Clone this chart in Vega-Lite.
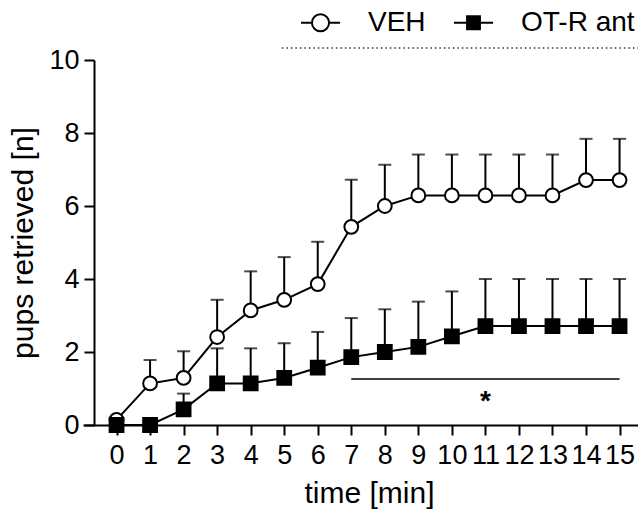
{
  "$schema": "https://vega.github.io/schema/vega-lite/v6.json",
  "width": 555,
  "height": 365,
  "autosize": {"type": "none"},
  "padding": {"left": 83, "top": 60, "right": 0, "bottom": 84},
  "background": "white",
  "config": {
    "view": {"stroke": null},
    "font": "Liberation Sans",
    "axis": {
      "domainColor": "black", "domainWidth": 2,
      "tickColor": "black", "tickWidth": 2, "tickSize": 10,
      "labelFont": "Liberation Sans", "labelFontSize": 27, "labelColor": "black",
      "titleFont": "Liberation Sans", "titleFontSize": 30, "titleFontWeight": "normal", "titleColor": "black",
      "grid": false
    }
  },
  "datasets": {
    "d": [
      {"t": 0, "group": "VEH", "mean": 0.14, "upper": null},
      {"t": 1, "group": "VEH", "mean": 1.14, "upper": 1.78},
      {"t": 2, "group": "VEH", "mean": 1.29, "upper": 2.02},
      {"t": 3, "group": "VEH", "mean": 2.41, "upper": 3.43},
      {"t": 4, "group": "VEH", "mean": 3.14, "upper": 4.21},
      {"t": 5, "group": "VEH", "mean": 3.43, "upper": 4.6},
      {"t": 6, "group": "VEH", "mean": 3.86, "upper": 5.02},
      {"t": 7, "group": "VEH", "mean": 5.43, "upper": 6.72},
      {"t": 8, "group": "VEH", "mean": 6.0, "upper": 7.13},
      {"t": 9, "group": "VEH", "mean": 6.29, "upper": 7.41},
      {"t": 10, "group": "VEH", "mean": 6.29, "upper": 7.41},
      {"t": 11, "group": "VEH", "mean": 6.29, "upper": 7.41},
      {"t": 12, "group": "VEH", "mean": 6.29, "upper": 7.41},
      {"t": 13, "group": "VEH", "mean": 6.29, "upper": 7.41},
      {"t": 14, "group": "VEH", "mean": 6.71, "upper": 7.84},
      {"t": 15, "group": "VEH", "mean": 6.71, "upper": 7.84},
      {"t": 0, "group": "OT-R ant", "mean": 0, "upper": null},
      {"t": 1, "group": "OT-R ant", "mean": 0, "upper": null},
      {"t": 2, "group": "OT-R ant", "mean": 0.43, "upper": 0.86},
      {"t": 3, "group": "OT-R ant", "mean": 1.14, "upper": 2.1},
      {"t": 4, "group": "OT-R ant", "mean": 1.14, "upper": 2.1},
      {"t": 5, "group": "OT-R ant", "mean": 1.29, "upper": 2.24},
      {"t": 6, "group": "OT-R ant", "mean": 1.57, "upper": 2.55},
      {"t": 7, "group": "OT-R ant", "mean": 1.86, "upper": 2.93},
      {"t": 8, "group": "OT-R ant", "mean": 2.0, "upper": 3.17},
      {"t": 9, "group": "OT-R ant", "mean": 2.14, "upper": 3.38},
      {"t": 10, "group": "OT-R ant", "mean": 2.43, "upper": 3.66},
      {"t": 11, "group": "OT-R ant", "mean": 2.71, "upper": 4.0},
      {"t": 12, "group": "OT-R ant", "mean": 2.71, "upper": 4.0},
      {"t": 13, "group": "OT-R ant", "mean": 2.71, "upper": 4.0},
      {"t": 14, "group": "OT-R ant", "mean": 2.71, "upper": 4.0},
      {"t": 15, "group": "OT-R ant", "mean": 2.71, "upper": 4.0}
    ],
    "sig": [{"t": 7, "t2": 15, "mean": 1.26, "tm": 11, "ym": 0.62, "label": "*"}],
    "legline": [{"t": 4.93, "t2": 15.55, "mean": 10.33}]
  },
  "encoding": {
    "x": {
      "field": "t", "type": "quantitative", "title": "time [min]",
      "scale": {"domain": [-1, 15.55], "nice": false, "zero": false},
      "axis": {"values": [0,1,2,3,4,5,6,7,8,9,10,11,12,13,14,15], "labelPadding": 7, "titlePadding": 10, "titleX": 286, "labelFlush": false, "labelOverlap": false}
    },
    "y": {
      "field": "mean", "type": "quantitative", "title": "pups retrieved [n]",
      "scale": {"domain": [0, 10], "nice": false},
      "axis": {"values": [0,2,4,6,8,10], "offset": -11, "labelPadding": 5, "titlePadding": 10}
    }
  },
  "layer": [
    {
      "data": {"name": "d"},
      "transform": [{"filter": "datum.upper != null"}],
      "mark": {"type": "rule", "color": "black", "strokeWidth": 2},
      "encoding": {"y2": {"field": "upper"}}
    },
    {
      "data": {"name": "d"},
      "transform": [{"filter": "datum.upper != null"}],
      "mark": {"type": "tick", "orient": "horizontal", "size": 13, "thickness": 2, "color": "black"},
      "encoding": {"y": {"field": "upper", "type": "quantitative", "title": "pups retrieved [n]"}}
    },
    {
      "data": {"name": "d"},
      "mark": {"type": "line", "color": "black", "strokeWidth": 2},
      "encoding": {"detail": {"field": "group"}}
    },
    {
      "data": {"name": "d"},
      "mark": {"type": "point", "filled": true, "size": 190, "stroke": "black", "strokeWidth": 2, "opacity": 1,
               "shape": {"expr": "datum.group === 'VEH' ? 'circle' : 'square'"}},
      "encoding": {
        "fill": {
          "field": "group", "type": "nominal",
          "scale": {"domain": ["VEH", "OT-R ant"], "range": ["white", "black"]},
          "legend": {
            "orient": "none", "legendX": 217, "legendY": -58, "direction": "horizontal",
            "title": null, "padding": 0, "symbolSize": 1521, "symbolStrokeColor": "black",
            "symbolStrokeWidth": 2, "symbolOpacity": 1, "labelFont": "Liberation Sans", "labelFontSize": 28,
            "labelColor": "black", "labelOffset": 27, "columnPadding": 24, "labelLimit": 300,
            "encode": {"symbols": {"update": {"shape": {"signal": "datum.value === 'VEH' ? 'M-1,0H-0.44M0.44,0H1M-0.44,0A0.44,0.44,0,1,0,0.44,0A0.44,0.44,0,1,0,-0.44,0Z' : 'M-1,0H1M-0.33,-0.33H0.33V0.33H-0.33Z'"}}}}
          }
        },
        "order": {"field": "group", "sort": "descending"}
      }
    },
    {
      "data": {"name": "sig"},
      "mark": {"type": "rule", "color": "black", "strokeWidth": 1.5},
      "encoding": {"x2": {"field": "t2"}}
    },
    {
      "data": {"name": "sig"},
      "mark": {"type": "text", "fontSize": 28, "fontWeight": "bold", "color": "black", "baseline": "middle", "align": "center"},
      "encoding": {
        "x": {"field": "tm", "type": "quantitative", "title": "time [min]"},
        "y": {"field": "ym", "type": "quantitative", "title": "pups retrieved [n]"},
        "text": {"field": "label"}
      }
    },
    {
      "data": {"name": "legline"},
      "mark": {"type": "rule", "color": "#333333", "strokeWidth": 1.5, "strokeDash": [1.5, 3], "clip": false},
      "encoding": {"x2": {"field": "t2"}}
    }
  ]
}
